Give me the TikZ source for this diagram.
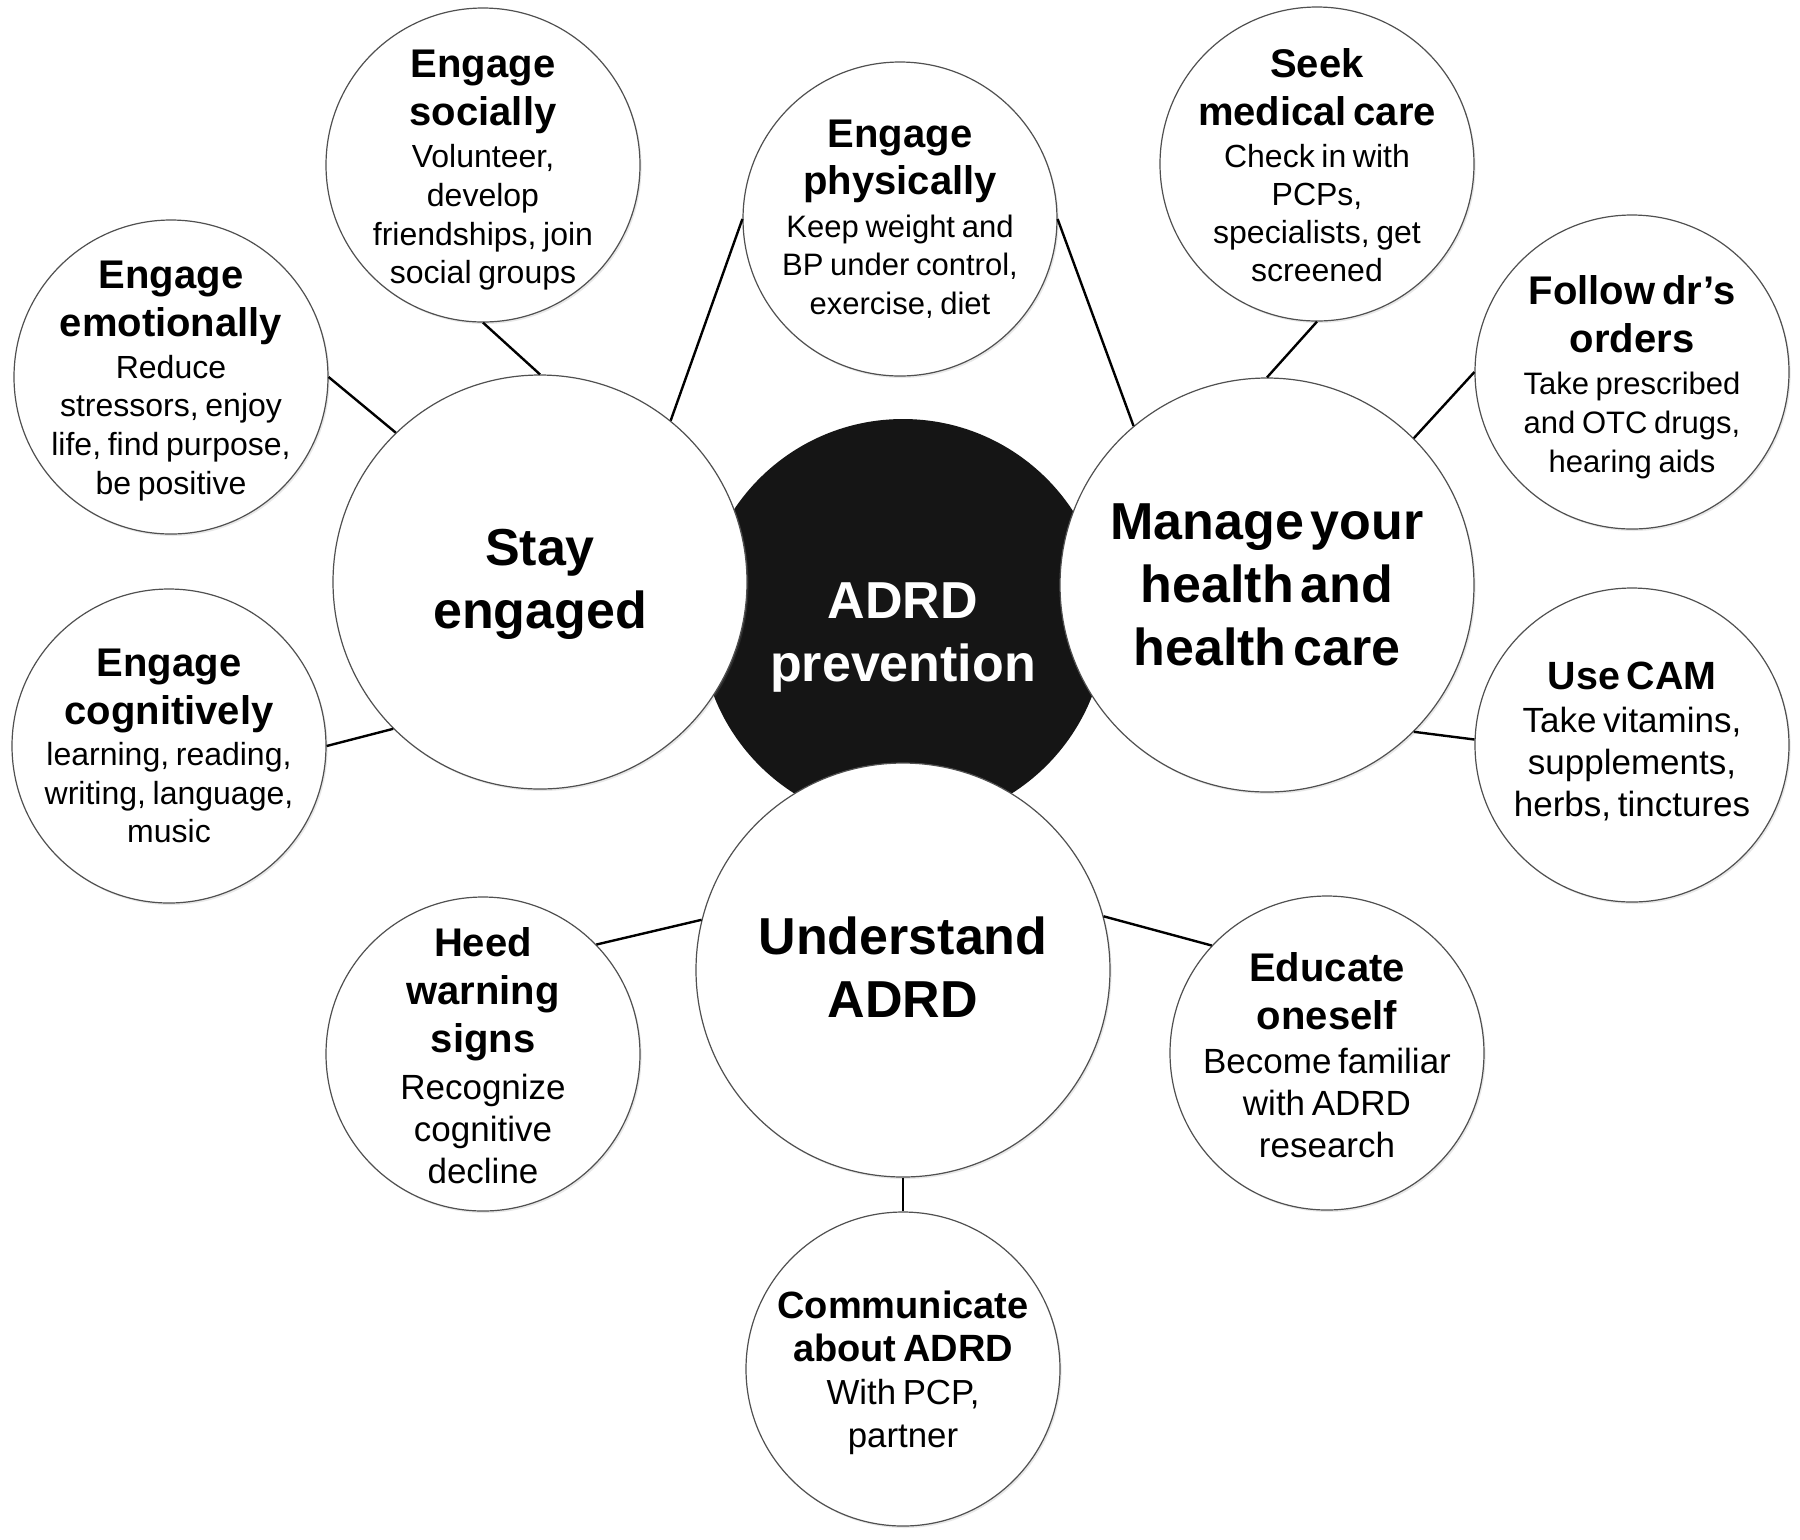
\documentclass[tikz,border=0pt]{standalone}
\usepackage{fontspec}
\setmainfont{Liberation Sans}
\usetikzlibrary{shadows}
\definecolor{corefill}{RGB}{21,21,21}
\definecolor{rim}{RGB}{80,80,80}
\newcommand\ttl[2]{\fontsize{#1}{#2}\selectfont\bfseries}
\newcommand\bdy[3]{\par\vskip#3\fontsize{#1}{#2}\selectfont\mdseries}
\newcommand\bigt{\fontsize{26}{31.5}\selectfont\bfseries}
\begin{document}
\begin{tikzpicture}[x=0.5pt,y=-0.5pt,
  small/.style={circle, draw=rim, line width=0.6pt, fill=white, minimum size=157pt, inner sep=0pt,
    drop shadow={opacity=0.18, shadow xshift=0.8pt, shadow yshift=-1pt}},
  big/.style={small, minimum size=207pt},
  corecircle/.style={circle, fill=corefill, minimum size=203pt, inner sep=0pt},
  txt/.style={text width=150pt, align=center, inner sep=0pt},
  bigtxt/.style={text width=190pt, align=center, inner sep=0pt},
  link/.style={line width=1.2pt, black}]
\useasboundingbox[fill=white] (0,0) rectangle (1800,1539);

% central and main circles
\node[corecircle] (adrd) at (903,622) {};
\node[big] (stay) at (540,582) {};
\node[big] (manage) at (1267,585) {};
\node[big] (und) at (903,970) {};

% satellite circles
\node[small] (social) at (483,165) {};
\node[small] (phys) at (900,219) {};
\node[small] (seek) at (1317,164) {};
\node[small] (emo) at (171,377) {};
\node[small] (follow) at (1632,372) {};
\node[small] (cog) at (169,746) {};
\node[small] (cam) at (1632,745) {};
\node[small] (heed) at (483,1054) {};
\node[small] (edu) at (1327,1053) {};
\node[small] (comm) at (903,1369) {};

% connectors
\draw[link] (social.south) -- (stay.north);
\draw[link] (stay.51.5) -- (phys.west);
\draw[link] (phys.east) -- (manage.130);
\draw[link] (emo.east) -- (stay.134);
\draw[link] (cog.east) -- (stay.225);
\draw[link] (seek.south) -- (manage.north);
\draw[link] (manage.45) -- (follow.west);
\draw[link] (manage.-45) -- (cam.178);
\draw[link] (und.166) -- (heed.44);
\draw[link] (und.15) -- (edu.137);
\draw[link] (und.south) -- (comm.north);

% texts
\node[bigtxt, text=white] (adrd-t) at (903,637) {\bigt ADRD\par prevention\par};
\node[bigtxt] (stay-t) at (540,584) {\bigt Stay\par engaged\par};
\node[bigtxt] (manage-t) at (1267,585) {\bigt Manage your\par health and\par health care\par};
\node[bigtxt] (und-t) at (903,967) {\bigt Understand\par ADRD\par};

\node[txt] (social-t) at (483,170) {\ttl{20}{24}Engage\par socially\bdy{16}{19.3}{2pt}Volunteer,\par develop\par friendships, join\par social groups\par};
\node[txt] (phys-t) at (900,219) {\ttl{20}{23.5}Engage\par physically\bdy{15.5}{19.2}{2.5pt}Keep weight and\par BP under control,\par exercise, diet\par};
\node[txt] (seek-t) at (1317,165) {\ttl{20}{24}Seek\par medical care\bdy{16}{19}{2pt}Check in with\par PCPs,\par specialists, get\par screened\par};
\node[txt] (emo-t) at (171,381) {\ttl{20}{24}Engage\par emotionally\bdy{16}{19.3}{1.5pt}Reduce\par stressors, enjoy\par life, find purpose,\par be positive\par};
\node[txt] (follow-t) at (1632,377) {\ttl{20}{24}Follow dr’s\par orders\bdy{15.5}{19.5}{1.5pt}Take prescribed\par and OTC drugs,\par hearing aids\par};
\node[txt] (cog-t) at (169,746) {\ttl{20}{24}Engage\par cognitively\bdy{16}{19.2}{1.5pt}learning, reading,\par writing, language,\par music\par};
\node[txt] (cam-t) at (1632,741) {\ttl{19.7}{23}Use CAM\bdy{17.5}{21}{0.5pt}Take vitamins,\par supplements,\par herbs, tinctures\par};
\node[txt] (heed-t) at (483,1056) {\ttl{20}{24}Heed\par warning\par signs\bdy{17.5}{21}{2.5pt}Recognize\par cognitive\par decline\par};
\node[txt] (edu-t) at (1327,1055) {\ttl{20}{24}Educate\par oneself\bdy{17.5}{21}{1pt}Become familiar\par with ADRD\par research\par};
\node[txt] (comm-t) at (903,1373) {\ttl{19}{21.8}Communicate\par about ADRD\bdy{17.4}{21.5}{0pt}With PCP,\par partner\par};
\end{tikzpicture}
\end{document}
